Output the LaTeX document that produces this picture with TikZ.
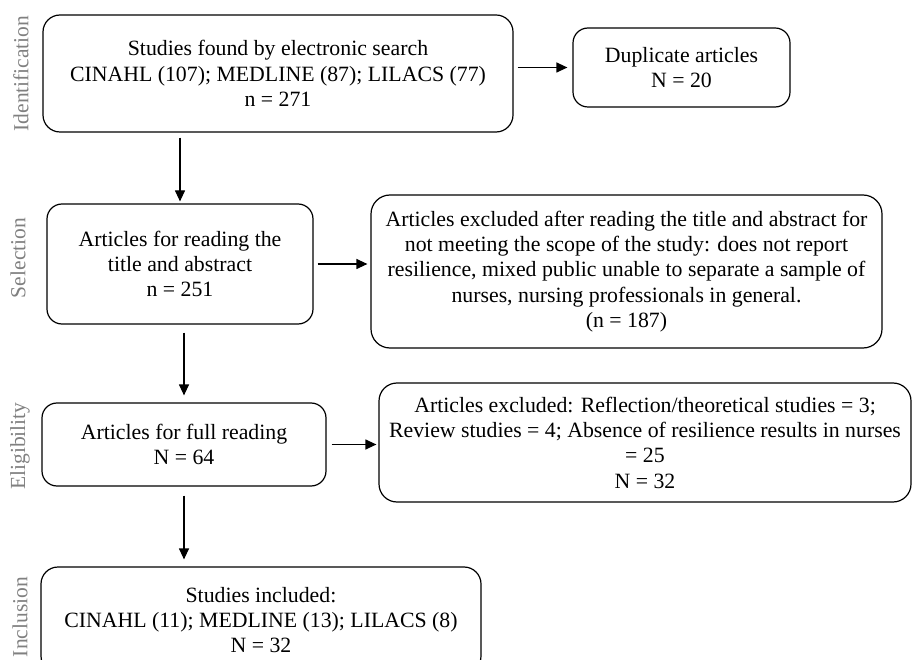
\documentclass[tikz,border=0pt]{standalone}
\usepackage{fontspec}
\setmainfont{Liberation Serif}
\usetikzlibrary{arrows.meta}
\definecolor{sidegray}{RGB}{128,128,128}
\begin{document}
\begin{tikzpicture}[x=1pt,y=-1pt,
  box/.style={draw, line width=1.2pt, rounded corners=15pt, align=center, inner sep=0pt,
    font=\fontsize{21.8}{25.3}\selectfont},
  arr/.style={line width=1.2pt, -{Triangle[length=11pt,width=10pt]}},
  side/.style={rotate=90, text=sidegray, inner sep=0pt, font=\fontsize{21.5}{24}\selectfont}]
\useasboundingbox (0,0) rectangle (913,660);
\clip (0,0) rectangle (913,660);

% boxes
\node[box, minimum width=470pt, minimum height=117pt, rounded corners=17pt] (b1) at (278,73.5)
  {Studies found by electronic search\\CINAHL (107); MEDLINE (87); LILACS (77)\\n = 271};
\node[box, minimum width=217pt, minimum height=79pt] (dup) at (681.5,67.5)
  {Duplicate articles\\N = 20};
\node[box, minimum width=266pt, minimum height=120pt] (b2) at (180,264)
  {Articles for reading the\\title and abstract\\n = 251};
\node[box, minimum width=511pt, minimum height=153pt, rounded corners=19pt] (ex1) at (626.5,271.5)
  {Articles excluded after reading the title and abstract for\\not meeting the scope of the study: does not report\\resilience, mixed public unable to separate a sample of\\nurses, nursing professionals in general.\\(n = 187)};
\node[box, minimum width=284pt, minimum height=83pt] (b4) at (184,444.5)
  {Articles for full reading\\N = 64};
\node[box, minimum width=532pt, minimum height=119pt, rounded corners=18pt] (ex2) at (645,442.5)
  {Articles excluded: Reflection/theoretical studies = 3;\\Review studies = 4; Absence of resilience results in nurses\\= 25\\N = 32};
\node[box, minimum width=440pt, minimum height=106pt, rounded corners=17pt] (b6) at (261,620)
  {Studies included:\\CINAHL (11); MEDLINE (13); LILACS (8)\\N = 32};

% side labels
\node[side] (l1) at (21,73.5) {Identification};
\node[side] (l2) at (18,258) {Selection};
\node[side] (l3) at (20,446) {Eligibility};
\node[side] (l4) at (20,617) {Inclusion};

% arrows
\draw[arr] ([xshift=4pt]b1.east |- dup.west) -- ([xshift=-5pt]dup.west);
\draw[arr] ([yshift=-5pt]b2.north |- b1.south) -- ([yshift=2pt]b2.north);
\draw[arr] ([xshift=4pt]b2.east) -- ([xshift=-3pt]ex1.west |- b2.east);
\draw[arr] ([yshift=-8pt]b4.north |- b2.south) -- ([yshift=7pt]b4.north);
\draw[arr] ([xshift=5pt]b4.east) -- ([xshift=-2pt]ex2.west |- b4.east);
\draw[arr] ([yshift=-9pt]b4.south) -- ([yshift=7pt]b4.south |- b6.north);
\end{tikzpicture}
\end{document}
